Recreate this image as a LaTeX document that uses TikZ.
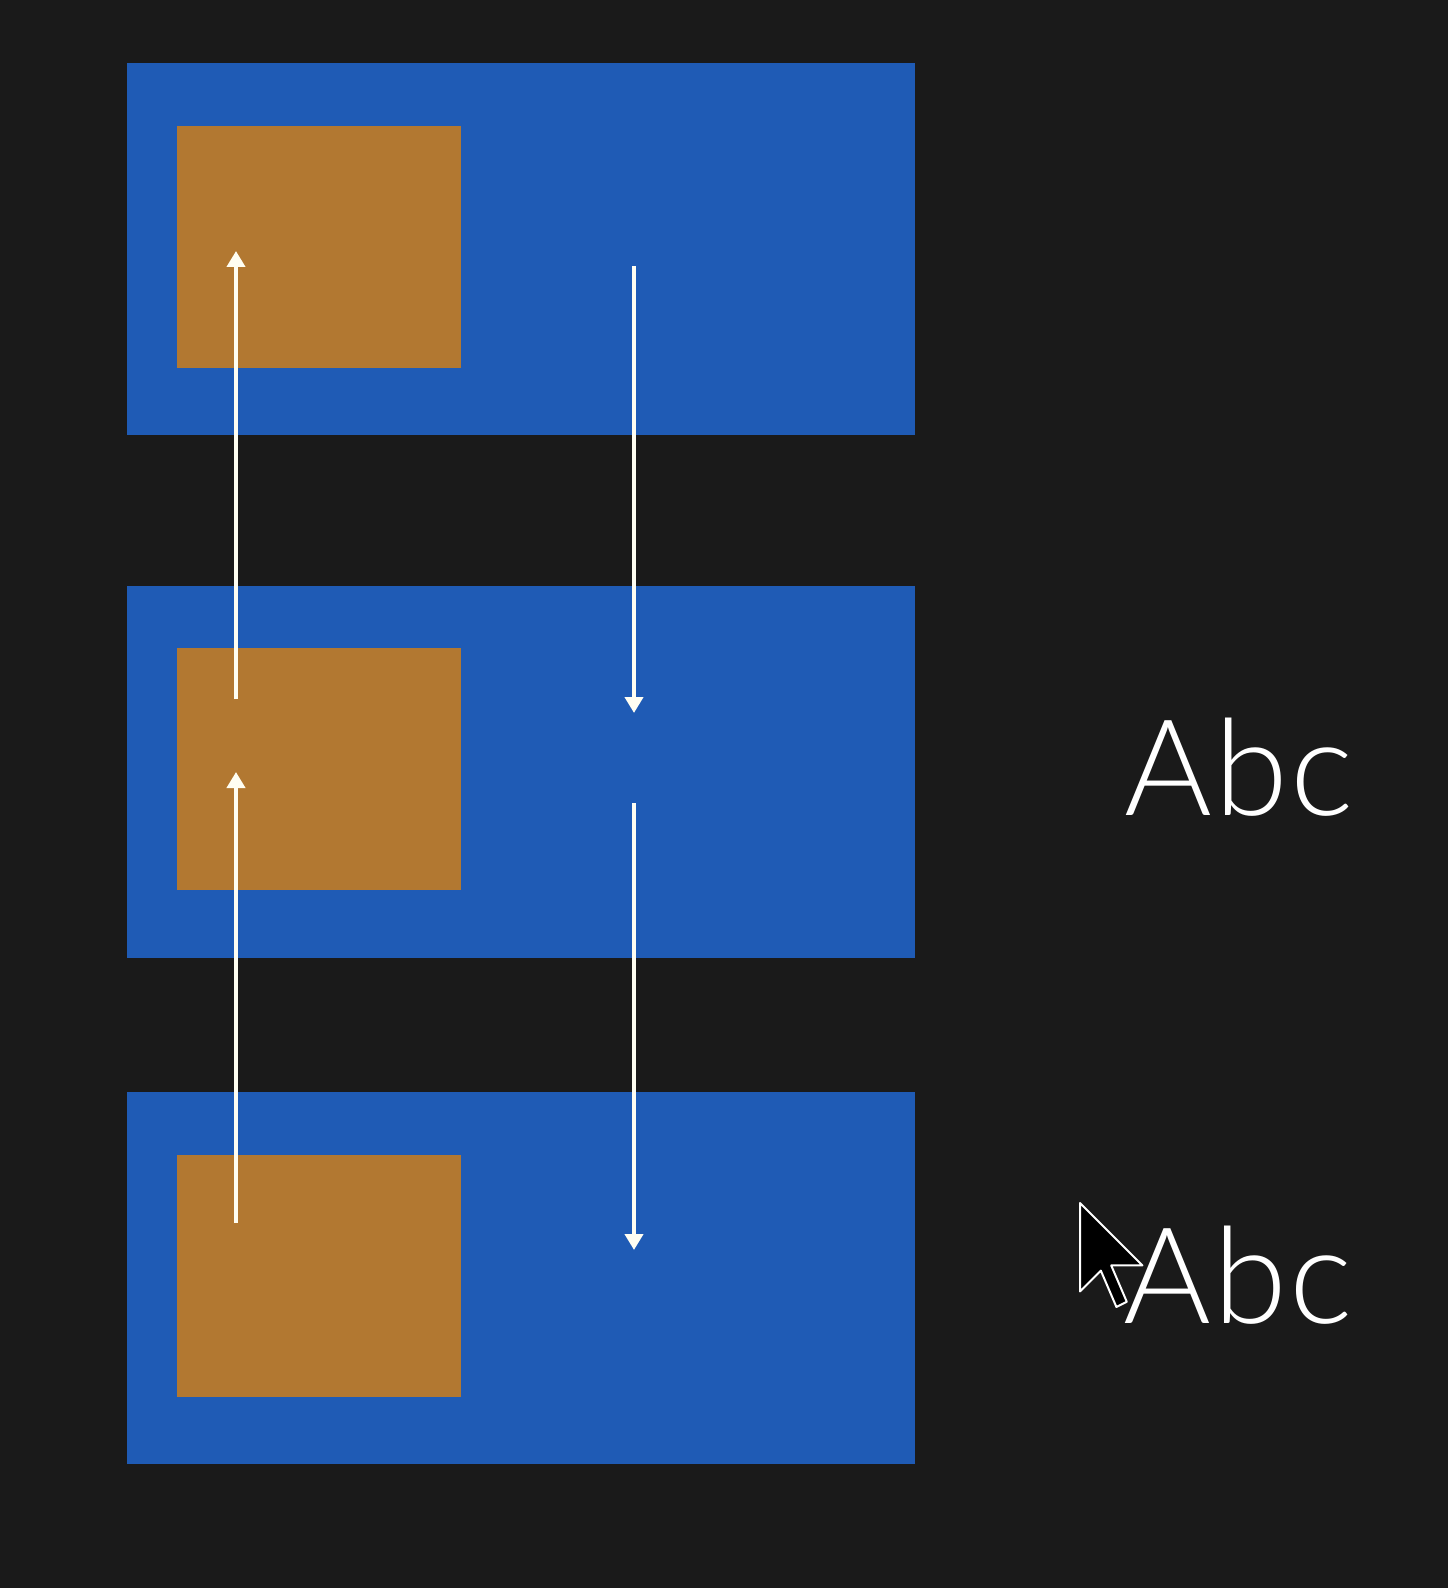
\documentclass[tikz,border=0pt]{standalone}
\usepackage{fontspec}
\setmainfont{TeX Gyre Heros}
\newfontfamily\lightsans{Lato}[UprightFont={* Light},LetterSpace=2]
\usetikzlibrary{arrows.meta}
\definecolor{bg}{HTML}{1A1A1A}
\definecolor{bluebox}{HTML}{1F5BB5}
\definecolor{orangebox}{HTML}{B27831}
\begin{document}
\begin{tikzpicture}[x=0.5pt,y=-0.5pt,
  panel/.style={fill=bluebox,draw=none,inner sep=0pt,anchor=north west,minimum width=394pt,minimum height=186pt},
  tile/.style={fill=orangebox,draw=none,inner sep=0pt,anchor=north west,minimum width=142pt,minimum height=121pt},
  flow/.style={draw=white!95!yellow,line width=2pt,-{Triangle[width=9pt,length=8pt]}},
  label/.style={text=white,font=\lightsans\fontsize{67}{72}\selectfont,inner sep=0pt,anchor=base west}]
\fill[bg] (0,0) rectangle (1448,1588);
\useasboundingbox (0,0) rectangle (1448,1588);
\node[panel] (p1) at (127,63) {};
\node[panel] (p2) at (127,586) {};
\node[panel] (p3) at (127,1092) {};
\node[tile] (o1) at (177,126) {};
\node[tile] (o2) at (177,648) {};
\node[tile] (o3) at (177,1155) {};
\coordinate (u1s) at (236,699);
\coordinate (u1e) at (236,251);
\coordinate (u2s) at (236,1223);
\coordinate (u2e) at (236,772);
\coordinate (d1s) at (634,266);
\coordinate (d1e) at (634,713);
\coordinate (d2s) at (634,803);
\coordinate (d2e) at (634,1250);
\draw[flow] (u1s) -- (u1e);
\draw[flow] (u2s) -- (u2e);
\draw[flow] (d1s) -- (d1e);
\draw[flow] (d2s) -- (d2e);
\node[label] (t1) at (1124,815) {Abc};
\node[label] (t2) at (1123,1323) {Abc};
\begin{scope}[shift={(1080,1203)},x=2.6pt,y=-2.6pt]
\filldraw[fill=black,draw=white,line width=1pt,line join=round]
  (0,0) -- (0,17) -- (4,13) -- (7,20) -- (9,19) -- (6,12) -- (12,12) -- cycle;
\end{scope}
\end{tikzpicture}
\end{document}
